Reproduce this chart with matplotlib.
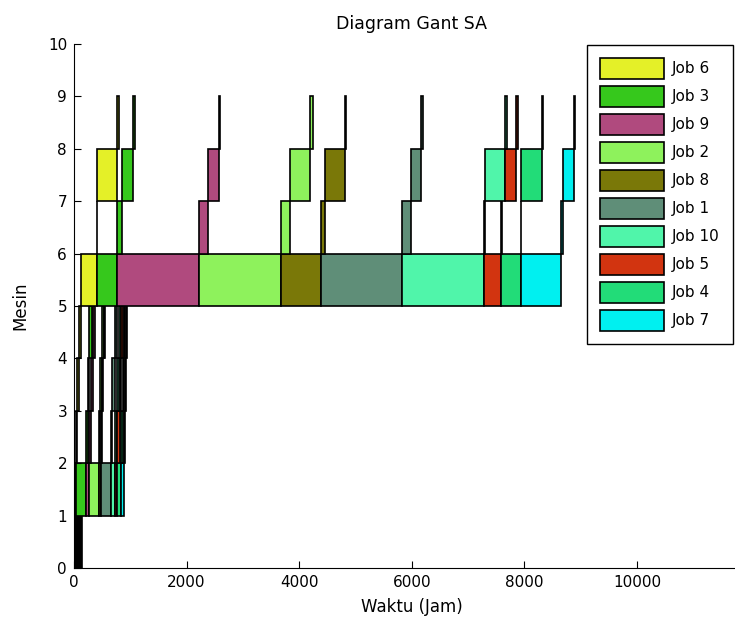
import matplotlib.pyplot as plt
from matplotlib.patches import Patch

plt.rcParams['font.family'] = ['DejaVu Sans']

# urutan job (sesuai legenda)
jobs = ["Job 6", "Job 3", "Job 9", "Job 2", "Job 8",
        "Job 1", "Job 10", "Job 5", "Job 4", "Job 7"]
job_colors = ["#e4f028", "#36c81c", "#b04a7e", "#8ef25c", "#7a7808",
              "#5f8e78", "#50f5aa", "#d23410", "#22dc78", "#00f0f0"]

# waktu mulai / selesai per mesin (jam), urutan sama dengan jobs
m1_start = [0, 14, 28, 42, 56, 70, 84, 98, 112, 126]
m1_end = [14, 28, 42, 56, 70, 84, 98, 112, 126, 140]
m2_start = [14, 36, 213, 272, 440, 474, 652, 720, 770, 835]
m2_end = [36, 213, 272, 440, 474, 652, 720, 770, 835, 880]
m3_start = [36, 213, 272, 440, 474, 652, 720, 770, 835, 880]
m3_end = [60, 240, 296, 465, 492, 680, 760, 810, 870, 906]
m4_start = [60, 240, 296, 465, 500, 680, 760, 810, 870, 906]
m4_end = [85, 272, 332, 500, 521, 720, 800, 840, 890, 920]
m5_start = [85, 272, 332, 500, 530, 728, 800, 840, 890, 920]
m5_end = [119, 320, 373, 530, 551, 770, 840, 870, 910, 936]
m6_start = [119, 414, 769, 2220, 3671, 4381, 5831, 7288, 7584, 7934]
m6_end = [414, 769, 2220, 3671, 4381, 5831, 7288, 7584, 7934, 8650]
m7_start = [414, 769, 2220, 3671, 4381, 5831, 7288, 7584, 7934, 8650]
m7_end = [416, 853, 2386, 3837, 4464, 5980, 7310, 7600, 7945, 8690]
m8_start = [416, 853, 2386, 3837, 4464, 5980, 7310, 7660, 7945, 8690]
m8_end = [769, 1042, 2575, 4192, 4820, 6163, 7660, 7860, 8307, 8880]
m9_start = [769, 1042, 2575, 4192, 4820, 6163, 7660, 7860, 8307, 8880]
m9_end = [800, 1075, 2585, 4250, 4830, 6200, 7695, 7895, 8340, 8905]

starts = [m1_start, m2_start, m3_start, m4_start, m5_start,
          m6_start, m7_start, m8_start, m9_start]
ends = [m1_end, m2_end, m3_end, m4_end, m5_end,
        m6_end, m7_end, m8_end, m9_end]

fig = plt.figure(figsize=(7.35, 6.26), dpi=100)
ax = fig.add_axes([0.1007, 0.0927, 0.919, 0.837])

for m in range(len(starts)):
    for j in range(len(jobs)):
        s = starts[m][j]
        e = ends[m][j]
        ax.barh(m, e - s, left=s, height=1, align='edge',
                color=job_colors[j], edgecolor='black', linewidth=1.2)

ax.set_xlim(0, 12000)
ax.set_ylim(0, 10)
ax.set_xticks([0, 2000, 4000, 6000, 8000, 10000])
ax.set_yticks(range(11))
ax.tick_params(direction='in', length=5, labelsize=11, pad=5)
ax.spines['top'].set_visible(False)
ax.spines['right'].set_visible(False)

ax.set_title("Diagram Gant SA", fontsize=12.5, pad=11)
ax.set_xlabel("Waktu (Jam)", fontsize=12, labelpad=6)
ax.set_ylabel("Mesin", fontsize=12, labelpad=13)

handles = [Patch(facecolor=c, edgecolor='black', linewidth=1.2) for c in job_colors]
leg = ax.legend(handles, jobs, loc='upper right',
                bbox_to_anchor=(733 / 735, 1 - 45 / 626),
                bbox_transform=fig.transFigure, borderaxespad=0,
                fontsize=11, handlelength=4.2, handleheight=1.75,
                labelspacing=0.45, handletextpad=0.55, borderpad=0.85,
                fancybox=False, framealpha=1, edgecolor='black')
leg.get_frame().set_linewidth(1.0)

fig.savefig("out.png", dpi=100)
